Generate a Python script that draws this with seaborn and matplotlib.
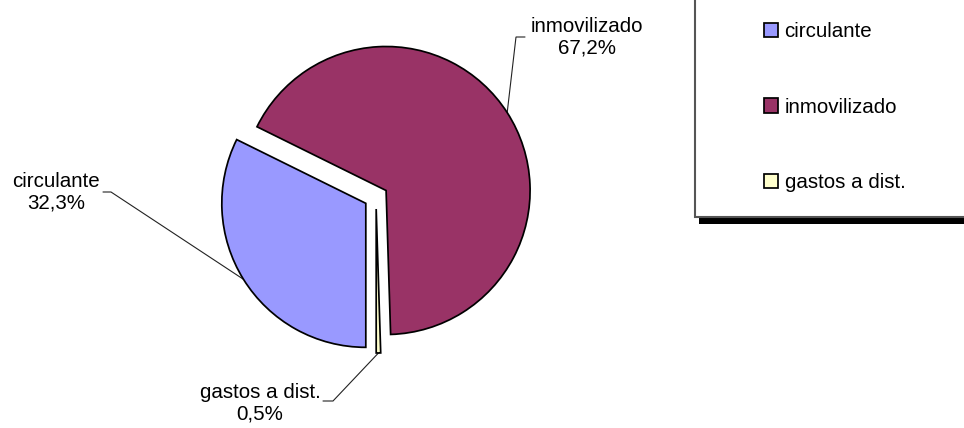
import matplotlib
matplotlib.use('Agg')
import matplotlib.pyplot as plt
import seaborn as sns
import numpy as np
from matplotlib.patches import Rectangle

# ---- data ----
categories = ['circulante', 'inmovilizado', 'gastos a dist.']
values = [32.3, 67.2, 0.5]
colors = ['#9999FF', '#993366', '#FFFFCC']

sns.set_theme(style='white')
plt.rcParams['font.family'] = ['Liberation Sans', 'DejaVu Sans']
plt.rcParams['text.color'] = 'black'

W, H = 964, 428
FS = 14.8
fig = plt.figure(figsize=(W / 100, H / 100), dpi=100)
fig.patch.set_facecolor('white')
ax = fig.add_axes([0, 0, 1, 1])

cx, cy = 376, H - 197
R = 144
wedges, _ = ax.pie(values, colors=colors, startangle=270, counterclock=False,
                   radius=R, center=(cx, cy), explode=[12] * len(values),
                   frame=True,
                   wedgeprops=dict(edgecolor='black', linewidth=1.25))
ax.set_xlim(0, W)
ax.set_ylim(0, H)
ax.set_aspect('auto')
ax.axis('off')

# label layout (pixel coords from top-left): text center, stub start, elbow
layout = [
    dict(text=(56, 192), stub=(103, 192), elbow=(111, 192)),
    dict(text=(587, 37), stub=(525, 37), elbow=(516, 37)),
    dict(text=(260, 403), stub=(323, 401), elbow=(333, 401)),
]

for w, cat, val, lay in zip(wedges, categories, values, layout):
    pct = f"{val:.1f}".replace('.', ',') + '%'
    tx, ty = lay['text']
    ax.text(tx, H - ty, f"{cat}\n{pct}", ha='center', va='center',
            fontsize=FS, color='black', linespacing=1.15)
    th = np.deg2rad((w.theta1 + w.theta2) / 2)
    px = w.center[0] + w.r * np.cos(th)
    py = w.center[1] + w.r * np.sin(th)
    sx, sy = lay['stub']
    ex, ey = lay['elbow']
    ax.plot([sx, ex, px], [H - sy, H - ey, py], color='#222222', lw=0.8,
            solid_joinstyle='miter', zorder=0)

# legend frame and shadow (behind the axes)
fig.patches.append(Rectangle((699 / W, 1 - 224 / H), 300 / W, 7 / H,
                             transform=fig.transFigure, facecolor='black',
                             edgecolor='none', zorder=-3))
fig.patches.append(Rectangle((695 / W, 1 - 217 / H), 300 / W, 240 / H,
                             transform=fig.transFigure, facecolor='white',
                             edgecolor='#555555', linewidth=1.5, zorder=-2))

leg = ax.legend(wedges, categories, loc='upper left',
                bbox_to_anchor=(764 / W, 1 - 22 / H),
                bbox_transform=fig.transFigure, frameon=False,
                fontsize=FS, handlelength=0.7, handleheight=0.7,
                handletextpad=0.3, labelspacing=2.76, borderpad=0,
                borderaxespad=0, labelcolor='black')
leg.set_zorder(5)

fig.savefig('out.png', dpi=100, facecolor='white')
